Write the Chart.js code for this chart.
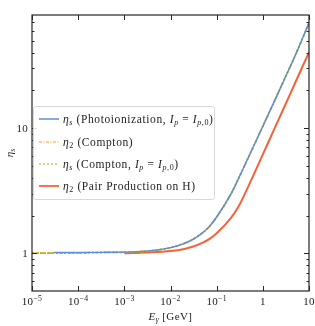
<!DOCTYPE html>
<html>
<head>
<meta charset="utf-8">
<script src="https://cdn.jsdelivr.net/npm/chart.js@4/dist/chart.umd.min.js"></script>
<style>
  html, body { margin: 0; padding: 0; background: #fff; }
  #wrap { width: 315px; height: 326px; position: relative; }
</style>
</head>
<body>
<div id="wrap"><canvas id="myChart" width="315" height="326"></canvas></div>
<script>
// photon energy grid (GeV) and curve values
const energies = [1e-5, 3e-5, 1e-4, 3e-4, 1e-3, 3e-3, 0.01, 0.02, 0.03, 0.05, 0.07, 0.1, 0.2, 0.3, 0.5, 1, 2, 3, 5, 10];
const eta_s_photo   = [null, 1.015, 1.015, 1.018, 1.021, 1.040, 1.109, 1.202, 1.288, 1.462, 1.641, 1.950, 2.938, 3.981, 5.957, 10.35, 17.99, 25.0, 37.8, 69.2];
const eta_2_compton = [1.002, 1.004, 1.008, 1.015, 1.021, 1.040, 1.109, 1.202, 1.288, 1.462, 1.641, 1.950, 2.938, 3.981, 5.957, 10.35, 17.99, 25.0, 37.8, 69.2];
const eta_s_compton = [1.002, 1.004, 1.008, 1.015, 1.021, 1.040, 1.109, 1.202, 1.288, 1.462, 1.641, 1.950, 2.938, 3.981, 5.957, 10.35, 17.99, 25.0, 37.8, 69.2];
const eta_2_pair    = [null, null, null, null, 1.000, 1.014, 1.042, 1.084, 1.127, 1.216, 1.303, 1.445, 1.897, 2.371, 3.508, 6.166, 10.84, 15.07, 22.9, 40.3];

// axis ticks
const xMajor = [-5, -4, -3, -2, -1, 0, 1];
const yMajor = [1, 10];
const yMinor = [0.6, 0.7, 0.8, 0.9, 2, 3, 4, 5, 6, 7, 8, 9, 20, 30, 40, 50, 60, 70];

const FONT = '"Liberation Serif", "DejaVu Serif", serif';

function toPoints(vals){
    let pts = []
    vals.forEach(function(v, i){ if(v !== null) pts.push({x: energies[i], y: v}) })
    return pts
}

// draw mixed roman / italic / subscript text; returns width
function drawRuns(ctx, runs, x, y, size, measureOnly, spacing){
    let cx = x
    ctx.letterSpacing = (spacing || 0) + 'px'
    runs.forEach(function(r){
        let txt = r[0], st = r[1]
        let s = size, dy = 0, font
        if(st == 'i') font = 'italic ' + s + 'px ' + FONT
        else if(st == 'r') font = s + 'px ' + FONT
        else if(st == 'sub'){ s = size*0.7; dy = size*0.22; font = 'italic ' + s + 'px ' + FONT }
        else if(st == 'subr'){ s = size*0.7; dy = size*0.22; font = s + 'px ' + FONT }
        else if(st == 'sup'){ s = size*0.7; dy = -size*0.38; font = s + 'px ' + FONT }
        ctx.font = font
        if(!measureOnly) ctx.fillText(txt, cx, y + dy)
        cx += ctx.measureText(txt).width
    })
    ctx.letterSpacing = '0px'
    return cx - x
}

const legendItems = [
    {color: '#5b8fd6', dash: [], width: 1.5,
     runs: [['η','i'],['s','sub'],[' (Photoionization, ','r'],['I','i'],['p','sub'],[' = ','r'],['I','i'],['p','sub'],[',0','subr'],[')','r']]},
    {color: '#f5a300', dash: [3,1.5,1,1.5], width: 1.2,
     runs: [['η','i'],['2','subr'],[' (Compton)','r']]},
    {color: '#8cbb1e', dash: [2,2], width: 1.2,
     runs: [['η','i'],['s','sub'],[' (Compton, ','r'],['I','i'],['p','sub'],[' = ','r'],['I','i'],['p','sub'],[',0','subr'],[')','r']]},
    {color: '#f4623a', dash: [], width: 1.8,
     runs: [['η','i'],['2','subr'],[' (Pair Production on H)','r']]}
];

const axesDecor = {
    id: 'axesDecor',
    afterDatasetsDraw(chart){
        const ctx = chart.ctx
        const a = chart.chartArea
        const xs = chart.scales.x, ys = chart.scales.y
        ctx.save()
        ctx.strokeStyle = '#262626'
        ctx.fillStyle = '#262626'
        ctx.lineWidth = 1
        ctx.setLineDash([])
        // ticks, pointing inwards on all four sides
        ctx.beginPath()
        xMajor.forEach(function(k){
            let px = Math.round(xs.getPixelForValue(Math.pow(10, k))) + 0.5
            ctx.moveTo(px, a.bottom); ctx.lineTo(px, a.bottom - 5)
            ctx.moveTo(px, a.top); ctx.lineTo(px, a.top + 5)
        })
        yMajor.forEach(function(v){
            let py = Math.round(ys.getPixelForValue(v)) + 0.5
            ctx.moveTo(a.left, py); ctx.lineTo(a.left + 5, py)
            ctx.moveTo(a.right, py); ctx.lineTo(a.right - 5, py)
        })
        yMinor.forEach(function(v){
            let py = Math.round(ys.getPixelForValue(v)) + 0.5
            ctx.moveTo(a.left, py); ctx.lineTo(a.left + 2.5, py)
            ctx.moveTo(a.right, py); ctx.lineTo(a.right - 2.5, py)
        })
        ctx.stroke()
        ctx.lineWidth = 1.2
        ctx.strokeRect(a.left, a.top, a.right - a.left, a.bottom - a.top)

        // x tick labels
        ctx.fillStyle = '#222'
        ctx.textBaseline = 'alphabetic'
        ctx.textAlign = 'left'
        const fs = 11
        xMajor.forEach(function(k){
            let px = xs.getPixelForValue(Math.pow(10, k))
            let runs = k == 0 ? [['1','r']] : (k == 1 ? [['10','r']] : [['10','r'],['\u2212' + (-k),'sup']])
            let w = drawRuns(ctx, runs, 0, 0, fs, true, 0.3)
            drawRuns(ctx, runs, px - w/2, a.bottom + 14, fs, false, 0.3)
        })
        // y tick labels
        yMajor.forEach(function(v){
            let py = ys.getPixelForValue(v)
            let runs = [[String(v),'r']]
            let w = drawRuns(ctx, runs, 0, 0, fs, true, 0.3)
            drawRuns(ctx, runs, a.left - 4 - w, py + 4, fs, false, 0.3)
        })
        // axis titles
        let xr = [['E','i'],['γ','sub'],[' [GeV]','r']]
        let xw = drawRuns(ctx, xr, 0, 0, fs, true, 0.4)
        drawRuns(ctx, xr, (a.left + a.right)/2 - xw/2, a.bottom + 29, fs, false, 0.4)
        ctx.save()
        ctx.translate(13, (a.top + a.bottom)/2)
        ctx.rotate(-Math.PI/2)
        let yr = [['η','i'],['s','sub']]
        let yw = drawRuns(ctx, yr, 0, 0, fs, true)
        drawRuns(ctx, yr, -yw/2, 0, fs)
        ctx.restore()

        // legend
        const bx = 33.5, by = 106.5, bw = 181, bh = 93
        ctx.fillStyle = 'rgba(255,255,255,0.85)'
        ctx.strokeStyle = '#d8d8d8'
        ctx.lineWidth = 1
        ctx.beginPath()
        ctx.roundRect(bx, by, bw, bh, 2)
        ctx.fill()
        ctx.stroke()
        const rows = [119, 142, 164, 186]
        legendItems.forEach(function(it, i){
            ctx.strokeStyle = it.color
            ctx.lineWidth = it.width
            ctx.setLineDash(it.dash)
            ctx.beginPath()
            ctx.moveTo(39, rows[i]); ctx.lineTo(59, rows[i])
            ctx.stroke()
            ctx.setLineDash([])
            ctx.fillStyle = '#222'
            drawRuns(ctx, it.runs, 63, rows[i] + 3.9, 11.5, false, 0.6)
        })
        ctx.restore()
    }
}

const ctx = document.getElementById('myChart');
const myChart = new Chart(ctx, {
    type: 'line',
    data: {
        datasets: [
            {label: 'η_s (Photoionization, I_p = I_p,0)', data: toPoints(eta_s_photo),
             borderColor: '#5b8fd6', borderWidth: 1.4},
            {label: 'η_2 (Compton)', data: toPoints(eta_2_compton),
             borderColor: '#f5a300', borderWidth: 1.6, borderDash: [4,2,1,2]},
            {label: 'η_s (Compton, I_p = I_p,0)', data: toPoints(eta_s_compton),
             borderColor: '#8cbb1e', borderWidth: 1.8, borderDash: [2,2]},
            {label: 'η_2 (Pair Production on H)', data: toPoints(eta_2_pair),
             borderColor: '#f4623a', borderWidth: 2}
        ]
    },
    options: {
        responsive: false,
        animation: false,
        layout: {padding: {left: 32, right: 6, top: 15, bottom: 35}},
        elements: {
            point: {radius: 0},
            line: {cubicInterpolationMode: 'monotone', fill: false}
        },
        plugins: {legend: {display: false}, tooltip: {enabled: false}},
        scales: {
            x: {type: 'logarithmic', min: 1e-5, max: 10, display: false},
            y: {type: 'logarithmic', min: 0.5, max: 80, display: false}
        }
    },
    plugins: [axesDecor]
});
</script>
</body>
</html>
